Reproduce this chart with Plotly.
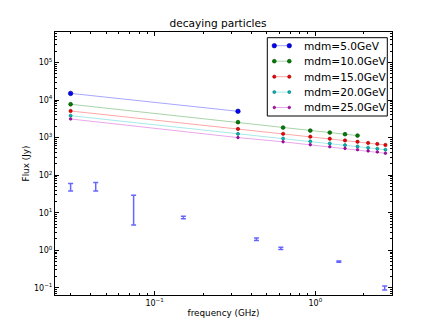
import plotly.graph_objects as go

# model frequencies (GHz)
freq_model = [0.03, 0.33, 0.63, 0.93, 1.23, 1.53, 1.83, 2.13, 2.43, 2.73]

# model fluxes (Jy) per dark-matter mass; None where the curve stops
flux_5 = [15000, 5000, None, None, None, None, None, None, None, None]
flux_10 = [7700, 2570, 1845, 1535, 1360, 1230, 1130, None, None, None]
flux_15 = [5100, 1700, 1260, 1055, 930, 840, 775, 720, 677, 635]
flux_20 = [3830, 1255, 945, 793, 700, 630, 582, 540, 508, 475]
flux_25 = [3125, 1000, 772, 647, 570, 515, 475, 442, 415, 382]

# observed data with error bars
freq_obs = [0.03, 0.043, 0.074, 0.151, 0.43, 0.61, 1.4, 2.7]
flux_obs = [49, 51, 17, 7.5, 1.96, 1.13, 0.50, 0.10]
err_obs = [11, 13, 12.3, 0.6, 0.15, 0.08, 0.02, 0.012]

series = [
    ("mdm=5.0GeV", flux_5, (0, 0, 255), 4.5),
    ("mdm=10.0GeV", flux_10, (0, 128, 0), 3.8),
    ("mdm=15.0GeV", flux_15, (255, 0, 0), 3.3),
    ("mdm=20.0GeV", flux_20, (0, 191, 191), 3),
    ("mdm=25.0GeV", flux_25, (191, 0, 191), 2.6),
]

W, H = 436, 329
L, R, T, B = 55, 392, 32, 295  # plot area in pixels


def px(x):
    return (x - L) / (R - L)


def py(y):
    return (B - y) / (B - T)


fig = go.Figure()

row_y = [45.7, 61.2, 76.7, 92.1, 107.5]

for i, (name, ys, (r, g, b), msize) in enumerate(series):
    dark = f"rgb({r // 2},{g // 2},{b // 2})"
    line = dict(color=f"rgba({r},{g},{b},0.35)", width=1)
    marker = dict(size=msize, color=f"rgb({r},{g},{b})", line=dict(color=dark, width=0.6))
    fig.add_trace(go.Scatter(
        x=freq_model, y=ys, name=name, mode="lines+markers",
        line=line, marker=marker, connectgaps=False, showlegend=False,
    ))
    # legend sample, drawn on hidden overlay axes in plot-fraction units
    fig.add_trace(go.Scatter(
        x=[px(274.3), px(289.3)], y=[py(row_y[i])] * 2, mode="lines+markers",
        line=line, marker=marker, xaxis="x2", yaxis="y2",
        showlegend=False, hoverinfo="skip", cliponaxis=False,
    ))
    fig.add_annotation(
        x=px(301.5), y=py(row_y[i]), xref="paper", yref="paper",
        text=name, showarrow=False, xanchor="left", yanchor="middle",
        font=dict(size=10.6),
    )

fig.add_shape(type="rect", xref="paper", yref="paper",
              x0=px(267.3), x1=px(387.3), y0=py(116), y1=py(37.7),
              line=dict(color="black", width=1), fillcolor="white", layer="below")

fig.add_trace(go.Scatter(
    x=freq_obs, y=flux_obs, mode="markers", showlegend=False,
    marker=dict(size=1, color="rgba(0,0,0,0)"),
    error_y=dict(type="data", array=err_obs, color="rgba(0,0,255,0.6)",
                 thickness=1.5, width=2.5),
))

x_minor = [m * 10 ** e for e in (-2, -1, 0) for m in range(2, 10)]
y_minor = [m * 10 ** e for e in range(-2, 6) for m in range(2, 10)]

common = dict(
    ticks="inside", ticklen=4, tickcolor="black", mirror="allticks",
    showline=True, linecolor="black", linewidth=1, showgrid=False, zeroline=False,
    automargin=False, tickfont=dict(size=8),
)

fig.update_layout(
    xaxis=dict(
        type="log", range=[-1.62, 0.477],
        tickvals=[0.1, 1], ticktext=["10<sup>\u22121</sup>", "10<sup>0</sup>"],
        minor=dict(tickvals=x_minor, ticks="inside", ticklen=2, tickcolor="black", showgrid=False),
        title=dict(text="frequency (GHz)", standoff=3, font=dict(size=8.8)),
        **common,
    ),
    yaxis=dict(
        type="log", range=[-1.19, 5.81],
        tickvals=[0.1, 1, 10, 100, 1e3, 1e4, 1e5],
        ticktext=["10<sup>\u22121</sup>", "10<sup>0</sup>", "10<sup>1</sup>", "10<sup>2</sup>",
                  "10<sup>3</sup>", "10<sup>4</sup>", "10<sup>5</sup>"],
        minor=dict(tickvals=y_minor, ticks="inside", ticklen=2, tickcolor="black", showgrid=False),
        title=dict(text="Flux (Jy)", standoff=2, font=dict(size=8.8)),
        **common,
    ),
    xaxis2=dict(overlaying="x", range=[0, 1], visible=False),
    yaxis2=dict(overlaying="y", range=[0, 1], visible=False),
    width=W, height=H,
    margin=dict(l=L, r=W - R, t=T, b=H - B),
    paper_bgcolor="white", plot_bgcolor="white",
    font=dict(family="DejaVu Sans", size=10.5, color="black"),
    title=dict(text="decaying particles", x=0.5, xanchor="center",
               y=1 - 23.5 / H, yanchor="middle", yref="container",
               font=dict(size=10.6)),
    showlegend=False,
)

# drop the browser's default 8px page margin so the figure sits at the corner
fig.write_html("out.html", config={"displayModeBar": False},
               post_script="document.body.style.margin='0';")
